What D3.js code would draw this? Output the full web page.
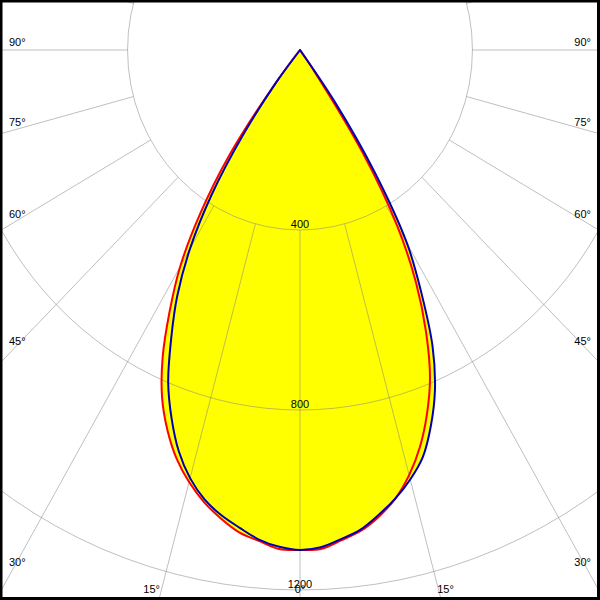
<!DOCTYPE html>
<html><head><meta charset="utf-8">
<script src="https://cdn.jsdelivr.net/npm/d3@7"></script>
<style>html,body{margin:0;padding:0;background:#fff}svg{display:block}</style>
</head><body>
<svg id="chart" width="600" height="600"></svg>
<script>
// gamma angles (deg) and luminous intensity (cd)
const gammas = [0,2.5,5,7.5,10,12.5,15,17.5,20,22.5,25,27.5,30,32.5,35,37.5,40];
const redLeft   = [1111,1110,1095,1081,1057,1029,994,952,899,836,754,655,556,430,287,100,0];
const redRight  = [1111,1110,1094,1078,1053,1021,978,925,861,788,692,583,450,271,60,0,0];
const blueLeft  = [1111,1105,1092,1071,1050,1023,985,935,871,799,707,617,511,382,230,90,0];
const blueRight = [1111,1106,1091,1075,1049,1021,988,948,888,818,728,611,497,324,140,0,0];
const ringValues = [400, 800, 1200];
const ringLabels = ["400", "800", "1200"];
const sideAngles = [90, 75, 60, 45, 30];
const bottomAngles = [15];

const W = 600, H = 600, cx = 300, cy = 50, kx = 0.958;
const rad = d => d * Math.PI / 180;
const r = d3.scaleLinear().domain([0, 1200]).range([0, 540]);

const svg = d3.select("#chart");
const font = "'Liberation Sans', Arial, sans-serif";
const g = svg.append("g").attr("transform", `translate(${cx},${cy}) scale(${kx},1)`);

function planePoints(left, right) {
  const pts = [];
  let last = 0;
  for (let i = gammas.length - 1; i >= 0; i--) if (left[i] > 0) { if (!pts.length) pts.push([Math.PI + rad(gammas[i]), 0]); pts.push([Math.PI + rad(gammas[i]), left[i]]); }
  for (let i = 1; i < gammas.length; i++) if (right[i] > 0) { pts.push([Math.PI - rad(gammas[i]), right[i]]); last = i; }
  pts.push([Math.PI - rad(gammas[last]), 0]);
  return pts;
}
const line = d3.lineRadial().angle(d => d[0]).radius(d => r(d[1])).curve(d3.curveCatmullRom.alpha(0.5));
const planes = [
  {pts: planePoints(redLeft, redRight), color: "#ff0000"},
  {pts: planePoints(blueLeft, blueRight), color: "#0000b4"}
];

// yellow fill
g.selectAll("path.fill").data(planes).join("path").attr("class", "fill")
  .attr("d", d => line(d.pts) + "Z").attr("fill", "#ffff00").attr("stroke", "none");

// grid
g.selectAll("circle.ring").data(ringValues).join("circle").attr("class", "ring")
  .attr("r", d => r(d)).attr("fill", "none").attr("stroke", "#808080").attr("stroke-opacity", 0.5)
  .attr("stroke-width", 1).attr("vector-effect", "non-scaling-stroke");
g.selectAll("line.spoke").data(d3.range(0, 360, 15)).join("line").attr("class", "spoke")
  .attr("x1", d => r(400) * Math.sin(rad(d))).attr("y1", d => r(400) * Math.cos(rad(d)))
  .attr("x2", d => r(3000) * Math.sin(rad(d))).attr("y2", d => r(3000) * Math.cos(rad(d)))
  .attr("stroke", "#808080").attr("stroke-opacity", 0.5).attr("stroke-width", 1)
  .attr("vector-effect", "non-scaling-stroke");

// curves
g.selectAll("path.curve").data(planes).join("path").attr("class", "curve")
  .attr("d", d => line(d.pts) + "Z").attr("fill", "none").attr("stroke", d => d.color)
  .attr("stroke-width", 2).attr("stroke-linejoin", "round").attr("vector-effect", "non-scaling-stroke");

// ring labels
svg.selectAll("text.ring").data(ringValues).join("text").attr("class", "ring")
  .attr("x", cx).attr("y", (d) => cy + r(d) - 2.5).attr("text-anchor", "middle")
  .attr("font-family", font).attr("font-size", 11).attr("fill", "#000")
  .text((d, i) => ringLabels[i]);

// angle labels
const slope = a => Math.cos(rad(a)) / (kx * Math.sin(rad(a)));
sideAngles.forEach(a => {
  const y = cy + (cx - 9) * slope(a) - (4 + (90 - a) * 0.11);
  svg.append("text").attr("x", 9).attr("y", y).attr("font-family", font).attr("font-size", 11).text(a + "°");
  svg.append("text").attr("x", 591).attr("y", y).attr("text-anchor", "end").attr("font-family", font).attr("font-size", 11).text(a + "°");
});
const by = 592.5;
bottomAngles.forEach(a => {
  const dx = (by - cy) / slope(a);
  svg.append("text").attr("x", cx - dx - 0.8).attr("y", by).attr("text-anchor", "end").attr("font-family", font).attr("font-size", 11).text(a + "°");
  svg.append("text").attr("x", cx + dx - 2).attr("y", by).attr("font-family", font).attr("font-size", 11).text(a + "°");
});
svg.append("text").attr("x", cx).attr("y", by).attr("text-anchor", "middle").attr("font-family", font).attr("font-size", 11).text("0°");

// frame
svg.append("rect").attr("x", 1).attr("y", 1).attr("width", 597.5).attr("height", 597.5)
  .attr("fill", "none").attr("stroke", "#000").attr("stroke-width", 3);
</script>
</body></html>
